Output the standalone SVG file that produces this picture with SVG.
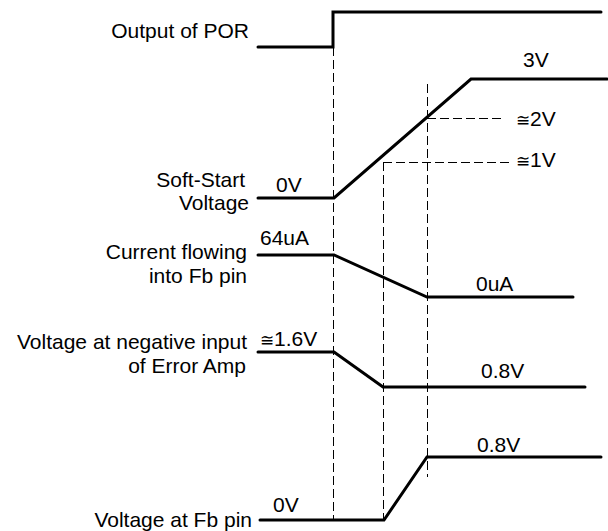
<svg xmlns="http://www.w3.org/2000/svg" width="608" height="531" viewBox="0 0 608 531">
<style>
text{font-family:"Liberation Sans",Arial,sans-serif;font-size:21px;fill:#000}
.r{text-anchor:end}
.s{font-size:17px}
.w{fill:none;stroke:#000;stroke-width:3;stroke-linecap:round;stroke-linejoin:miter}
.d{fill:none;stroke:#000;stroke-width:1;stroke-dasharray:9 4}
</style>
<rect width="608" height="531" fill="#fff"/>
<g id="guides">
<path class="d" d="M333.5 47V520"/>
<path class="d" d="M383.5 162V520"/>
<path class="d" d="M427.5 84V477"/>
<path class="d" d="M427 118.5H502"/>
<path class="d" d="M383 162.5H510"/>
</g>
<g id="por">
<text class="r" x="249" y="38">Output of POR</text>
<path class="w" d="M258 47H333V12H601"/>
</g>
<g id="softstart">
<text class="r" x="245" y="187">Soft-Start</text>
<text class="r" x="249" y="210">Voltage</text>
<text x="276" y="192">0V</text>
<text x="523" y="67">3V</text>
<text x="516" y="126"><tspan class="s">≅</tspan>2V</text>
<text x="516" y="167"><tspan class="s">≅</tspan>1V</text>
<path class="w" d="M258 198H334L471 79H607"/>
</g>
<g id="current">
<text class="r" x="247" y="259">Current flowing</text>
<text class="r" x="247" y="283">into Fb pin</text>
<text x="260" y="245">64uA</text>
<text x="476" y="291">0uA</text>
<path class="w" d="M258 255H334L427 297H573"/>
</g>
<g id="erroramp">
<text class="r" x="247" y="349">Voltage at negative input</text>
<text class="r" x="246" y="373">of Error Amp</text>
<text x="260" y="346"><tspan class="s">≅</tspan>1.6V</text>
<text x="481" y="378">0.8V</text>
<path class="w" d="M258 352H334L383 387H585"/>
</g>
<g id="fbpin">
<text class="r" x="252" y="527">Voltage at Fb pin</text>
<text x="273" y="512">0V</text>
<text x="477" y="452">0.8V</text>
<path class="w" d="M260 520H384L427 457H601"/>
</g>
</svg>
